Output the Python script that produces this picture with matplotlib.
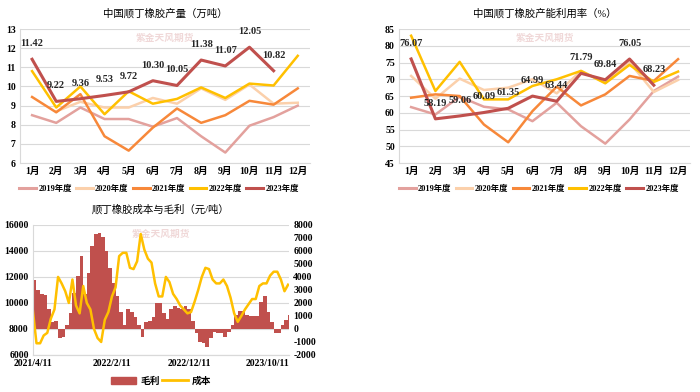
import pandas as pd
import matplotlib
matplotlib.use("Agg")
import matplotlib.pyplot as plt
from matplotlib.patches import Patch
from matplotlib.lines import Line2D

plt.rcParams['font.family'] = ['Liberation Serif', 'Noto Sans CJK SC', 'DejaVu Sans']
plt.rcParams['font.weight'] = 'bold'
plt.rcParams['axes.unicode_minus'] = False

# ---- data ----
months = ['1月', '2月', '3月', '4月', '5月', '6月', '7月', '8月', '9月', '10月', '11月', '12月']
years = ['2019年度', '2020年度', '2021年度', '2022年度', '2023年度']
colors = ['#e3a19d', '#fbd0ab', '#f7883a', '#ffc000', '#c0504d']

# output (10k tons)
output_2019 = [8.5, 8.1, 8.9, 8.3, 8.3, 7.9, 8.35, 7.4, 6.55, 7.95, 8.4, 9.0]
output_2020 = [None, 8.7, 9.2, 8.9, 8.9, 9.4, 9.1, 9.9, 9.3, 10.1, 9.1, 9.15]
output_2021 = [9.45, 8.65, 9.6, 7.4, 6.65, 7.85, 8.85, 8.1, 8.5, 9.25, 9.05, 9.9]
output_2022 = [10.8, 8.9, 10.0, 8.55, 9.75, 9.1, 9.35, 9.95, 9.4, 10.15, 10.05, 11.6]
output_2023 = [11.42, 9.22, 9.36, 9.53, 9.72, 10.30, 10.05, 11.38, 11.07, 12.05, 10.82]

# capacity utilization (%)
util_2019 = [61.7, 59.5, 64.8, 61.8, 61.0, 57.5, 63.0, 56.0, 50.8, 58.0, 66.5, 70.8]
util_2020 = [71.0, 64.2, 70.2, 66.8, 67.5, 70.0, 65.8, 72.5, 69.0, 75.0, 66.2, 69.8]
util_2021 = [64.5, 65.5, 65.0, 56.5, 51.2, 60.5, 67.8, 62.2, 65.5, 71.0, 69.5, 76.0]
util_2022 = [83.0, 66.5, 75.2, 64.0, 64.0, 68.0, 70.0, 72.5, 68.8, 74.3, 69.2, 72.3]
util_2023 = [76.07, 58.19, 59.06, 60.09, 61.35, 64.99, 63.44, 71.79, 69.84, 76.05, 68.23]

# cost and gross margin (yuan/ton), every two weeks from 2021/4/11
dates = pd.date_range('2021-04-11', periods=72, freq='14D')
cost = [9400, 6900, 6900, 7500, 7700, 8800, 9500, 12000, 11500, 10900,
        10000, 11800, 9800, 9200, 11300, 10000, 9500, 8000, 7300, 7000,
        8700, 9300, 10500, 11200, 13600, 13850, 13850, 12700, 12600, 13200,
        15300, 14100, 13400, 13100, 11500, 10500, 10500, 12000, 11600, 10700,
        10300, 9800, 9500, 9200, 9300, 10100, 11000, 12000, 12700, 12600,
        11800, 11500, 11500, 11800, 11300, 10400, 9200, 8550, 9000, 9500,
        9900, 10300, 10300, 11300, 11500, 11500, 12100, 12400, 12400, 11800,
        10900, 11400]
margin = [3800, 3000, 2650, 2600, 1500, 570, 650, -700, -650, 300,
          1200, 2800, 4100, 5600, 2700, 4300, 6400, 7300, 7400, 7100,
          6000, 4700, 3500, 2500, 1300, 300, 1500, 1300, 900, 300,
          -600, 500, 600, 900, 2000, 2000, 1200, 800, 1500, 1800,
          1600, 1500, 1800, 1500, 600, -300, -1000, -1100, -1350, -700,
          -250, -300, -300, -600, -250, 300, 1100, 1350, 1350, 1100,
          1000, 1000, 1000, 2100, 2500, 1300, 500, -300, -300, 300,
          700, 1100]
date_ticks = pd.to_datetime(['2021-04-11', '2022-02-11', '2022-12-11', '2023-10-11'])
date_labels = ['2021/4/11', '2022/2/11', '2022/12/11', '2023/10/11']

grid_c = '#d9d9d9'
fs = 7

fig = plt.figure(figsize=(7, 3.92), dpi=100)


def style_axes(ax):
    ax.spines['top'].set_visible(False)
    ax.spines['right'].set_visible(False)
    ax.spines['left'].set_color(grid_c)
    ax.spines['bottom'].set_color(grid_c)
    ax.yaxis.grid(True, color=grid_c, linewidth=0.8)
    ax.set_axisbelow(True)
    ax.tick_params(length=0, labelsize=fs, pad=3)


def watermark(ax):
    ax.text(0.5, 0.93, '紫金天风期货', transform=ax.transAxes, ha='center', va='center',
            fontsize=7, color='#f0d8d8', zorder=0)


def month_chart(ax, series, labels_2023, ylim, title):
    x = range(len(months))
    for s, c in zip(series, colors):
        xs = [i for i, v in zip(x, s) if v is not None]
        ys = [v for v in s if v is not None]
        ax.plot(xs, ys, color=c, linewidth=1.8 if c != colors[-1] else 2.2)
    for i, v in enumerate(labels_2023):
        ax.annotate(f'{v:.2f}', (i, v), xytext=(0, 8), textcoords='offset points',
                    ha='center', va='bottom', fontsize=7.5, color='#262626')
    ax.set_xlim(-0.5, len(months) - 0.5)
    ax.set_ylim(*ylim)
    ax.set_xticks(list(x))
    ax.set_xticklabels(months)
    style_axes(ax)
    watermark(ax)
    ax.set_title(title, fontsize=7.5, pad=9)


ax1 = fig.add_axes([0.0286, 0.584, 0.414, 0.342])
month_chart(ax1, [output_2019, output_2020, output_2021, output_2022, output_2023],
            output_2023, (6, 13), '中国顺丁橡胶产量（万吨）')
ax1.set_yticks(range(6, 14))

ax2 = fig.add_axes([0.570, 0.584, 0.416, 0.342])
month_chart(ax2, [util_2019, util_2020, util_2021, util_2022, util_2023],
            util_2023, (45, 85), '中国顺丁橡胶产能利用率（%）')
ax2.set_yticks(range(45, 86, 5))

for ax in (ax1, ax2):
    handles = [Line2D([0], [0], color=c, linewidth=2.2) for c in colors]
    ax.legend(handles, years, loc='center', bbox_to_anchor=(0.48, -0.19), ncol=5,
              frameon=False, fontsize=6, handlelength=2.0, columnspacing=0.5,
              handletextpad=0.3, borderaxespad=0, borderpad=0)

# ---- cost & margin ----
axc = fig.add_axes([0.047, 0.0944, 0.366, 0.332])
axm = axc.twinx()
axc.set_zorder(axm.get_zorder() + 1)
axc.patch.set_visible(False)

for lvl in range(-2000, 8001, 2000):
    axm.axhline(lvl, color=grid_c, linewidth=0.8, zorder=0)
axm.bar(dates, margin, width=14, align='edge', color='#c0504d', linewidth=0, zorder=2)
axc.plot(dates, cost, color='#ffc000', linewidth=1.8)

axc.set_ylim(6000, 16000)
axc.set_yticks(range(6000, 16001, 2000))
axm.set_ylim(-2000, 8000)
axm.set_yticks(range(-2000, 8001, 1000))
axc.set_xlim(dates[0], dates[-1] + pd.Timedelta(days=4))
axc.set_xticks(date_ticks)
axc.set_xticklabels(date_labels)

for ax in (axc, axm):
    for side in ('top', 'right', 'left'):
        ax.spines[side].set_visible(False)
    ax.spines['bottom'].set_color(grid_c)
    ax.tick_params(length=0, labelsize=fs, pad=3)
axc.spines['left'].set_visible(True)
axc.spines['left'].set_color(grid_c)
watermark(axc)
axc.set_title('顺丁橡胶成本与毛利（元/吨）', fontsize=7.5, pad=9)

axc.legend([Patch(color='#c0504d'), Line2D([0], [0], color='#ffc000', linewidth=2)],
           ['毛利', '成本'], loc='center', bbox_to_anchor=(0.5, -0.2), ncol=2,
           frameon=False, fontsize=fs, handlelength=2.6, columnspacing=0.3,
           handletextpad=0.4)

fig.savefig('out.png', dpi=100)
